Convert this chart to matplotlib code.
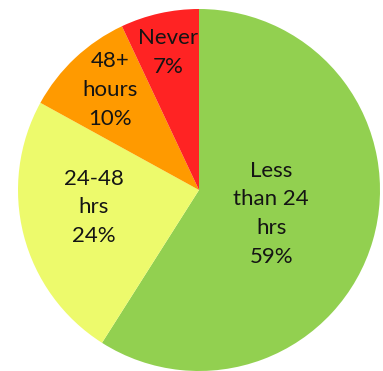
import numpy as np
import matplotlib
matplotlib.use("Agg")
import matplotlib.pyplot as plt

categories = ["Less\nthan 24\nhrs", "24-48\nhrs", "48+\nhours", "Never"]
shares = [59, 24, 10, 7]
colors = ["#92D050", "#EDFA6C", "#FF9A00", "#FF2323"]

# radial distance and angular nudge (degrees) of each in-slice label
label_dist = [0.42, 0.59, 0.74, 0.78]
label_turn = [-2.0, -5.0, -1.5, 0.0]

fig = plt.figure(figsize=(3.83, 3.71), dpi=100)
ax = fig.add_axes([18 / 383, 0 / 371, 362 / 383, 362 / 371])

wedges, _ = ax.pie(shares, colors=colors, startangle=90, counterclock=False,
                   radius=1.0, wedgeprops=dict(linewidth=0))
ax.set_xlim(-1, 1)
ax.set_ylim(-1, 1)
ax.set_aspect("equal")
ax.axis("off")

for w, cat, val, d, t in zip(wedges, categories, shares, label_dist, label_turn):
    mid = np.deg2rad((w.theta1 + w.theta2) / 2 + t)
    ax.text(d * np.cos(mid), d * np.sin(mid), f"{cat}\n{val}%",
            ha="center", va="center", fontsize=16, family="Lato",
            color="#141414", linespacing=1.55)

fig.savefig("out.png", dpi=100)
